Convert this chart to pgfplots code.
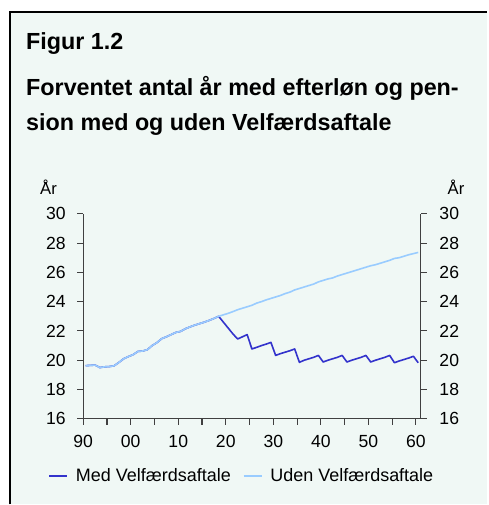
\documentclass[border=0pt]{standalone}
\usepackage{pgfplots}
\pgfplotsset{compat=1.18}
\usepackage{fontspec}
\setmainfont{Liberation Sans}
\definecolor{bgmint}{HTML}{F0F8F5}
\definecolor{darkline}{HTML}{3333CC}
\definecolor{lightline}{HTML}{99CCFF}
\definecolor{axisgray}{HTML}{404040}

\pgfplotstableread{
year val
1990.5 19.63
1991.5 19.65
1992.5 19.67
1993.5 19.50
1994.5 19.55
1995.5 19.57
1996.5 19.62
1997.5 19.85
1998.5 20.10
1999.5 20.25
2000.5 20.38
2001.5 20.60
2002.5 20.63
2003.5 20.72
2004.5 21.00
2005.5 21.20
2006.5 21.47
2007.5 21.60
2008.5 21.75
2009.5 21.90
2010.5 21.97
2011.5 22.15
2012.5 22.28
2013.5 22.40
2014.5 22.50
2015.5 22.60
2016.5 22.72
2017.5 22.85
2018.5 23.00
2019.5 22.60
2020.5 22.20
2021.5 21.80
2022.5 21.45
2023.5 21.60
2024.5 21.75
2025.5 20.77
2026.5 20.88
2027.5 21.00
2028.5 21.10
2029.5 21.22
2030.5 20.33
2031.5 20.45
2032.5 20.55
2033.5 20.65
2034.5 20.77
2035.5 19.86
2036.5 20.00
2037.5 20.10
2038.5 20.20
2039.5 20.33
2040.5 19.88
2041.5 20.00
2042.5 20.10
2043.5 20.20
2044.5 20.33
2045.5 19.88
2046.5 20.00
2047.5 20.10
2048.5 20.20
2049.5 20.33
2050.5 19.88
2051.5 20.00
2052.5 20.10
2053.5 20.20
2054.5 20.33
2055.5 19.83
2056.5 19.95
2057.5 20.05
2058.5 20.15
2059.5 20.27
2060.5 19.83
}\medtable

\pgfplotstableread{
year val
1990.5 19.63
1991.5 19.65
1992.5 19.67
1993.5 19.50
1994.5 19.55
1995.5 19.57
1996.5 19.62
1997.5 19.85
1998.5 20.10
1999.5 20.25
2000.5 20.38
2001.5 20.60
2002.5 20.63
2003.5 20.72
2004.5 21.00
2005.5 21.20
2006.5 21.47
2007.5 21.60
2008.5 21.75
2009.5 21.90
2010.5 21.97
2011.5 22.15
2012.5 22.28
2013.5 22.40
2014.5 22.50
2015.5 22.60
2016.5 22.72
2017.5 22.85
2018.5 23.00
2019.5 23.10
2020.5 23.20
2021.5 23.32
2022.5 23.45
2023.5 23.55
2024.5 23.65
2025.5 23.75
2026.5 23.90
2027.5 24.00
2028.5 24.12
2029.5 24.22
2030.5 24.32
2031.5 24.42
2032.5 24.55
2033.5 24.65
2034.5 24.80
2035.5 24.90
2036.5 25.00
2037.5 25.10
2038.5 25.20
2039.5 25.35
2040.5 25.45
2041.5 25.55
2042.5 25.62
2043.5 25.75
2044.5 25.85
2045.5 25.95
2046.5 26.05
2047.5 26.15
2048.5 26.25
2049.5 26.35
2050.5 26.45
2051.5 26.52
2052.5 26.62
2053.5 26.72
2054.5 26.82
2055.5 26.95
2056.5 27.00
2057.5 27.10
2058.5 27.20
2059.5 27.28
2060.5 27.36
}\udentable

\begin{document}
\begin{tikzpicture}
% page and frame
\fill[white] (0pt,0pt) rectangle (366pt,-378.75pt);
\fill[bgmint] (7.5pt,-9pt) rectangle (366pt,-378.75pt);
\draw[black, line width=0.9pt] (7.5pt,-378.75pt) -- (7.5pt,-9pt) -- (366pt,-9pt);
% titles
\node[anchor=base west, inner sep=0pt, font=\fontsize{17.5}{20}\selectfont\bfseries] at (19.5pt,-37.5pt) {Figur 1.2};
\node[anchor=base west, inner sep=0pt, font=\fontsize{17.5}{20}\selectfont\bfseries] at (19.5pt,-72pt) {Forventet antal år med efterløn og pen-};
\node[anchor=base west, inner sep=0pt, font=\fontsize{17.5}{20}\selectfont\bfseries] at (19.5pt,-98.25pt) {sion med og uden Velfærdsaftale};
% unit labels
\node[anchor=base west, inner sep=0pt, font=\fontsize{12.5}{14}\selectfont] at (30pt,-146pt) {År};
\node[anchor=base west, inner sep=0pt, font=\fontsize{12.5}{14}\selectfont] at (336pt,-146pt) {År};

\begin{axis}[
  at={(62.5pt,-314.5pt)}, anchor=south west,
  width=253.3pt, height=154pt, scale only axis,
  xmin=1990, xmax=2061, ymin=16, ymax=30,
  axis y line*=left, axis x line*=bottom,
  axis line style={axisgray, line width=0.8pt},
  every tick/.style={axisgray, line width=0.8pt},
  tick align=outside,
  major tick length=4.5pt, minor tick length=4.5pt,
  xtick={1990,2000,...,2060},
  xticklabels={90,00,10,20,30,40,50,60},
  minor xtick={1995,2005,...,2055},
  ytick={16,18,...,30},
  /pgf/number format/assume math mode=true,
  ticklabel style={font=\fontsize{13.2}{15}\selectfont},
  yticklabel style={inner sep=0pt, xshift=-8.5pt},
  xticklabel style={inner sep=0pt, yshift=-7.5pt},
  legend columns=2,
  legend style={at={(0.471,-0.278)}, anchor=center, draw=none, fill=none,
    font=\fontsize{13.5}{15}\selectfont, inner sep=0pt,
    /tikz/every even column/.append style={column sep=7pt}},
  legend image code/.code={\draw[#1] (0pt,0pt) -- (13.5pt,0pt); \path (17.5pt,0pt);},
]
\addplot[darkline, line width=1.2pt, line join=round] table[x=year,y=val] {\medtable};
\addlegendentry{Med Velfærdsaftale}
\addplot[lightline, line width=1.2pt, line join=round] table[x=year,y=val] {\udentable};
\addlegendentry{Uden Velfærdsaftale}
\end{axis}

\begin{axis}[
  at={(62.5pt,-314.5pt)}, anchor=south west,
  width=253.3pt, height=154pt, scale only axis,
  xmin=1990, xmax=2061, ymin=16, ymax=30,
  axis y line*=right, axis x line=none,
  axis line style={axisgray, line width=0.8pt},
  every tick/.style={axisgray, line width=0.8pt},
  tick align=outside,
  major tick length=4.5pt,
  ytick={16,18,...,30},
  /pgf/number format/assume math mode=true,
  ticklabel style={font=\fontsize{13.2}{15}\selectfont},
  yticklabel style={inner sep=0pt, xshift=9.5pt},
]
\addplot[draw=none] coordinates {(1990,16)};
\end{axis}
\end{tikzpicture}
\end{document}
